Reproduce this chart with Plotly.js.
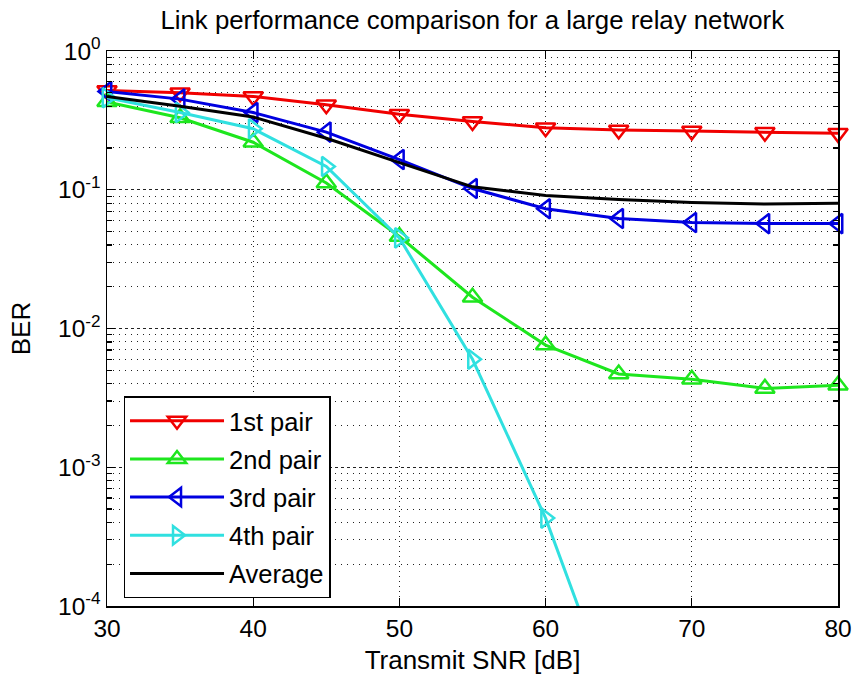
<!DOCTYPE html>
<html>
<head>
<meta charset="utf-8">
<script src="https://cdn.plot.ly/plotly-3.0.1.min.js"></script>
<style>html,body{margin:0;padding:0;background:#fff;}#chart{width:854px;height:678px;}</style>
</head>
<body>
<div id="chart"></div>
<script>
// Data
var snr = [30, 35, 40, 45, 50, 55, 60, 65, 70, 75, 80];
var pair1 = [0.52, 0.50, 0.47, 0.41, 0.35, 0.31, 0.28, 0.27, 0.265, 0.26, 0.255];
var pair2 = [0.43, 0.33, 0.22, 0.112, 0.046, 0.0168, 0.0076, 0.0047, 0.0043, 0.0037, 0.0039];
var pair3 = [0.51, 0.45, 0.36, 0.26, 0.165, 0.102, 0.073, 0.062, 0.058, 0.057, 0.057];
var snr4 = [30, 35, 40, 45, 50, 55, 60, 65];
var pair4 = [0.46, 0.36, 0.275, 0.147, 0.045, 0.006, 0.00043, 0.000016];
var average = [0.47, 0.40, 0.334, 0.235, 0.157, 0.105, 0.091, 0.085, 0.081, 0.079, 0.080];
var names = ['1st pair', '2nd pair', '3rd pair', '4th pair', 'Average'];
var xTickVals = [30, 40, 50, 60, 70, 80];
var yTickVals = [1e-4, 1e-3, 1e-2, 1e-1, 1];
var yTickText = ['10<sup>-4</sup>', '10<sup>-3</sup>', '10<sup>-2</sup>', '10<sup>-1</sup>', '10<sup>0</sup>'];

var minorY = [];
for (var d = -4; d < 0; d++) { for (var k = 2; k <= 9; k++) { minorY.push(k * Math.pow(10, d)); } }

function mk(x, y, name, color, symbol, group) {
  var t = {
    x: x, y: y, name: name, type: 'scatter', mode: symbol ? 'lines+markers' : 'lines',
    line: {color: color, width: 3},
    legendgroup: group, cliponaxis: false
  };
  if (symbol) {
    t.marker = {symbol: symbol, size: 17, color: color, line: {color: color, width: 2.5}};
  }
  return t;
}

var traces = [
  mk(snr, pair1, names[0], '#f00000', 'triangle-down-open', 'g1'),
  mk(snr, pair2, names[1], '#1ee61e', 'triangle-up-open', 'g2'),
  mk(snr, pair3, names[2], '#0000e0', 'triangle-left-open', 'g3'),
  mk(snr4, pair4, names[3], '#30e0e0', 'triangle-right-open', 'g4'),
  mk(snr, average, names[4], '#000000', null, 'g5')
];

var fontFam = '"Liberation Sans", Arial, sans-serif';
var layout = {
  width: 854, height: 678,
  margin: {l: 106.5, r: 16, t: 50.7, b: 72.3},
  paper_bgcolor: '#fff', plot_bgcolor: '#fff',
  font: {family: fontFam, size: 24, color: '#000'},
  title: {text: 'Link performance comparison for a large relay network', font: {size: 25.8, family: fontFam},
          x: 0.553, xanchor: 'center', y: 0.970, yanchor: 'middle', yref: 'container'},
  showlegend: true,
  legend: {x: 0.0226, y: 0.378, xanchor: 'left', yanchor: 'top', bgcolor: '#fff',
           bordercolor: '#000', borderwidth: 1.5, font: {size: 25.5, family: fontFam},
           traceorder: 'grouped', tracegroupgap: 2, itemwidth: 94},
  xaxis: {
    range: [30, 80], tickvals: xTickVals, ticktext: xTickVals.map(String),
    showline: true, linecolor: '#000', linewidth: 1.5, mirror: 'allticks',
    ticks: 'inside', ticklen: 8, tickwidth: 1.2, tickcolor: '#000',
    showgrid: true, gridcolor: '#222', gridwidth: 1, griddash: '1px,4px',
    zeroline: false, tickfont: {size: 24.5},
    title: {text: 'Transmit SNR [dB]', font: {size: 26}, standoff: 10}
  },
  yaxis: {
    type: 'log', range: [-4, 0], tickvals: yTickVals, ticktext: yTickText,
    showline: true, linecolor: '#000', linewidth: 1.5, mirror: 'allticks',
    ticks: 'inside', ticklen: 8, tickwidth: 1.2, tickcolor: '#000',
    showgrid: true, gridcolor: '#222', gridwidth: 1, griddash: '3px,3px',
    zeroline: false, tickfont: {size: 24.5},
    minor: {tickmode: 'array', tickvals: minorY, ticks: 'inside', ticklen: 5, tickcolor: '#000',
            showgrid: true, gridcolor: '#222', gridwidth: 1, griddash: '1px,5px'},
    title: {text: 'BER', font: {size: 26}, standoff: 20}
  }
};

Plotly.newPlot('chart', traces, layout, {staticPlot: true, displayModeBar: false});
</script>
</body>
</html>
